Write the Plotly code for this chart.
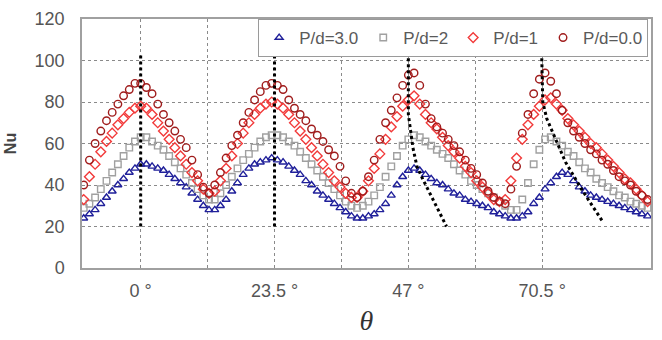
import plotly.graph_objects as go

# ---- data ----
theta = list(range(-10, 90))  # degrees

nu_pd30 = [24, 26, 28, 31, 34, 37, 40, 43, 46, 48,
           50, 50, 49, 48, 47, 45, 43, 41, 39, 36,
           33, 30, 28, 28, 30, 33, 37, 41, 45, 48,
           50, 51, 52, 53, 52, 51, 49, 47, 45, 42,
           40, 37, 35, 33, 31, 29, 27, 25, 24, 24,
           25, 26, 28, 31, 35, 40, 44, 47, 48, 47,
           45, 43, 41, 40, 38, 36, 35, 33, 32, 31,
           30, 29, 27, 26, 25, 24, 24, 25, 27, 31,
           34, 38, 41, 44, 46, 45, 42, 39, 37, 35,
           34, 33, 32, 31, 30, 29, 28, 27, 26, 25]

nu_pd2 = [29, 31, 34, 38, 42, 46, 50, 54, 58, 61,
          63, 63, 61, 59, 57, 54, 51, 48, 45, 41,
          38, 35, 33, 33, 36, 40, 44, 48, 52, 55,
          58, 61, 63, 64, 64, 63, 61, 59, 56, 53,
          50, 47, 44, 41, 38, 35, 32, 30, 29, 30,
          32, 35, 39, 44, 49, 54, 59, 62, 64, 63,
          61, 59, 57, 55, 53, 50, 47, 45, 42, 40,
          38, 36, 34, 32, 30, 28, 28, 33, 41, 50,
          57, 62, 63, 61, 59, 56, 54, 51, 48, 46,
          43, 41, 39, 37, 35, 34, 32, 31, 30, 29]

nu_pd1 = [33, 44, 50, 56, 61, 65, 69, 72, 75, 77,
          78, 77, 74, 70, 66, 62, 58, 54, 50, 46,
          42, 38, 36, 37, 42, 48, 54, 60, 65, 70,
          74, 77, 79, 80, 79, 77, 74, 70, 66, 62,
          58, 54, 50, 46, 42, 39, 36, 34, 34, 37,
          42, 48, 55, 62, 68, 73, 78, 81, 83, 79,
          74, 70, 67, 63, 59, 56, 53, 49, 46, 42,
          39, 36, 33, 32, 33, 42, 53, 62, 69, 74,
          78, 81, 82, 79, 76, 72, 69, 66, 63, 60,
          58, 55, 52, 49, 46, 43, 41, 38, 35, 32]

nu_pd0 = [40, 52, 60, 66, 71, 75, 79, 83, 86, 89,
          89, 87, 84, 79, 74, 70, 66, 62, 58, 52,
          45, 39, 36, 40, 46, 53, 59, 64, 70, 75,
          81, 85, 88, 89, 88, 86, 81, 77, 74, 71,
          67, 64, 61, 57, 54, 49, 42, 36, 34, 37,
          44, 52, 62, 70, 76, 82, 88, 93, 94, 88,
          79, 72, 68, 65, 62, 59, 56, 52, 48, 45,
          41, 37, 34, 32, 31, 38, 49, 65, 74, 84,
          91, 94, 90, 84, 76, 70, 66, 63, 60, 57,
          55, 52, 50, 47, 44, 42, 40, 37, 35, 33]

# peak guide lines (theta, Nu)
guide0_theta = [0, 0]
guide0_nu = [20, 103]
guide23_theta = [23.5, 23.5]
guide23_nu = [20, 104]
guide47_theta = [47, 47, 47.8, 48.5, 49.5, 53.7]
guide47_nu = [104, 74, 58, 49, 43, 20]
guide70_theta = [70.4, 70.6, 71.3, 73.0, 74.6, 77.4, 81.2]
guide70_nu = [104, 80, 72, 61, 51, 38, 22]

grid_ticks = [0, 11.75, 23.5, 35.25, 47, 58.75, 70.5]
grid_labels = ["0 °", "", "23.5 °", "", "47 °", "", "70.5 °"]
y_ticks = [0, 20, 40, 60, 80, 100, 120]

series = [
    ("P/d=3.0", nu_pd30, "triangle-up-open", "#20209a", 7),
    ("P/d=2", nu_pd2, "square-open", "#a0a0a0", 6.5),
    ("P/d=1", nu_pd1, "diamond-open", "#f23a3a", 7.5),
    ("P/d=0.0", nu_pd0, "circle-open", "#a01c1c", 7.5),
]

fig = go.Figure()
for name, ys, sym, col, size in series:
    fig.add_trace(go.Scatter(
        x=theta, y=ys, mode="markers", name=name,
        marker=dict(symbol=sym, color=col, size=size, line=dict(width=1.4, color=col)),
    ))

for gx, gy in [(guide0_theta, guide0_nu), (guide23_theta, guide23_nu),
               (guide47_theta, guide47_nu), (guide70_theta, guide70_nu)]:
    fig.add_trace(go.Scatter(
        x=gx, y=gy, mode="lines", showlegend=False, hoverinfo="skip",
        line=dict(color="black", width=3, dash="dot"),
    ))

fig.update_layout(
    width=662, height=340,
    margin=dict(l=80, r=9, t=9, b=70),
    plot_bgcolor="white", paper_bgcolor="white",
    font=dict(family="Liberation Sans, Arial, sans-serif", color="#555555", size=18),
    legend=dict(
        orientation="h", x=0.995, xanchor="right", y=1, yanchor="top",
        bgcolor="white", bordercolor="#9a9a9a", borderwidth=1,
        font=dict(size=17, color="#5a5a5a"),
        itemwidth=30, tracegroupgap=0,
    ),
)

fig.update_xaxes(
    range=[-10.3, 89.6], tickmode="array", tickvals=grid_ticks, ticktext=grid_labels,
    showgrid=True, gridcolor="#8a8a8a", gridwidth=1, griddash="3px,3px",
    showline=True, mirror=True, linecolor="#a0a0a0", linewidth=1.5,
    zeroline=False, ticks="", tickfont=dict(size=18, color="#555555"),
    ticklabelstandoff=6,
    title=dict(text="θ", font=dict(family="Liberation Serif, serif", size=28, color="#333333", style="italic"),
               standoff=10),
)
fig.update_yaxes(
    range=[0, 120], tickmode="array", tickvals=y_ticks,
    showgrid=True, gridcolor="#8a8a8a", gridwidth=1, griddash="3px,3px",
    showline=True, mirror=True, linecolor="#a0a0a0", linewidth=1.5,
    zeroline=False, ticks="", tickfont=dict(size=18, color="#555555"),
    ticklabelstandoff=12,
    title=dict(text="<b>Nu</b>", font=dict(size=16, color="#444444"), standoff=14),
)

fig.write_html("out.html")
